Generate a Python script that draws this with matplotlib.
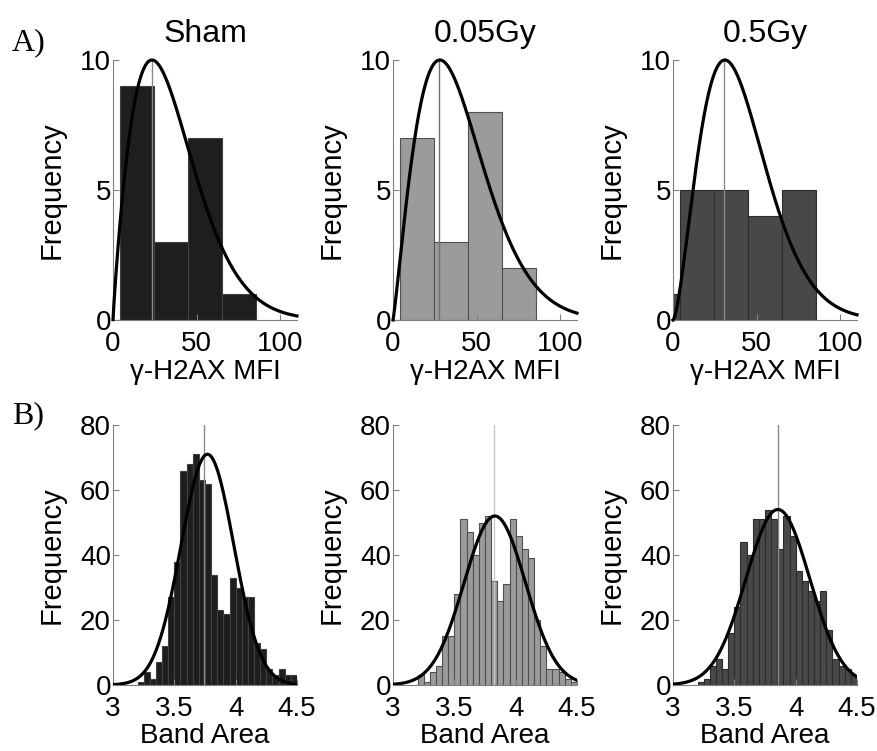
import numpy as np
import matplotlib.pyplot as plt

plt.rcParams['font.family'] = ['Liberation Sans', 'DejaVu Sans']

groups = ['Sham', '0.05Gy', '0.5Gy']
bar_colors = ['#1e1e1e', '#9b9b9b', '#484848']
edge_colors = ['#404040', '#505050', '#2c2c2c']

# A) gamma-H2AX MFI histograms
mfi_edges = [-16.4, 4.0, 24.4, 44.8, 65.2, 85.6]
mfi_sham = [0, 9, 3, 7, 1]
mfi_005 = [0, 7, 3, 8, 2]
mfi_05 = [1, 5, 5, 4, 5]
# fitted curve: mode, shape, peak height; gray line position
mfi_mode = [23.3, 28.0, 31.0]
mfi_shape = [0.9, 1.15, 1.55]
mfi_power = 1.5
mfi_peak = 10
mfi_mark = [23.3, 27.5, 30.4]

# B) band area histograms
area_start = 3.2
area_width = 0.05
area_sham = [1, 4, 2, 7, 12, 27, 38, 66, 68, 71, 63, 62, 34, 23, 22, 33, 30, 27, 27, 13, 11, 5, 3, 5, 3, 3]
area_005 = [3, 1, 4, 6, 15, 15, 28, 51, 47, 40, 50, 52, 32, 26, 31, 51, 46, 42, 39, 20, 12, 5, 5, 4, 2, 1]
area_05 = [1, 2, 6, 8, 5, 16, 24, 44, 40, 51, 51, 54, 51, 42, 52, 46, 35, 32, 29, 26, 29, 17, 8, 6, 5, 3]
# normal fit: mean, sd, peak height; gray line position
area_mean = [3.77, 3.83, 3.855]
area_sd = [0.215, 0.25, 0.26]
area_peak = [71, 52, 54]
area_mark = [3.742, 3.82, 3.853]

mark_top = ['#8a8a8a', '#707070', '#8a8a8a']
mark_bot = ['#8a8a8a', '#c8c8c8', '#8a8a8a']

W, H = 877, 751
fig = plt.figure(figsize=(W / 100, H / 100), dpi=100)

lefts = [113, 393, 673]
aw, ah = 184, 260


def style(ax):
    for s in ['top', 'right']:
        ax.spines[s].set_visible(False)
    for s in ['left', 'bottom']:
        ax.spines[s].set_color('#808080')
        ax.spines[s].set_linewidth(0.8)
    ax.tick_params(direction='in', length=4, width=0.8, color='#808080',
                   labelsize=20, labelcolor='black')
    ax.tick_params(axis='y', pad=1.5)
    ax.tick_params(axis='x', pad=8)


mfi_counts = [mfi_sham, mfi_005, mfi_05]
area_counts = [area_sham, area_005, area_05]

for i in range(3):
    # top row
    ax = fig.add_axes([lefts[i] / W, 1 - (60 + ah) / H, aw / W, ah / H])
    style(ax)
    e = np.array(mfi_edges)
    ax.bar(e[:-1], mfi_counts[i], width=np.diff(e), align='edge',
           color=bar_colors[i], edgecolor=edge_colors[i], linewidth=0.8, zorder=1)
    ax.plot([mfi_mark[i]] * 2, [0, mfi_peak], color=mark_top[i], lw=1, zorder=2)
    x = np.linspace(0.01, 110, 500)
    t = x / mfi_mode[i]
    y = mfi_peak * np.exp(mfi_shape[i] * (np.log(t) - (t ** mfi_power - 1) / mfi_power))
    ax.plot(x, y, color='black', lw=2.3, zorder=3, clip_on=False)
    ax.set_xlim(0, 110)
    ax.set_ylim(0, 10)
    ax.set_xticks([0, 50, 100])
    ax.set_yticks([0, 5, 10])
    ax.set_title(groups[i], fontsize=23, pad=13)
    ax.set_xlabel('\u03b3-H2AX MFI', fontsize=20)
    ax.set_ylabel('Frequency', fontsize=21)
    ax.xaxis.set_label_coords(0.5, -0.15)
    ax.yaxis.set_label_coords(-0.26, 0.5)

    # bottom row
    ax = fig.add_axes([lefts[i] / W, 1 - (425 + ah) / H, aw / W, ah / H])
    style(ax)
    n = len(area_counts[i])
    edges = area_start + area_width * np.arange(n + 1)
    ax.bar(edges[:-1], area_counts[i], width=area_width, align='edge',
           color=bar_colors[i], edgecolor=edge_colors[i], linewidth=0.8, zorder=1)
    ax.plot([area_mark[i]] * 2, [0, 80], color=mark_bot[i], lw=1, zorder=2)
    x = np.linspace(3, 4.5, 400)
    y = area_peak[i] * np.exp(-(x - area_mean[i]) ** 2 / (2 * area_sd[i] ** 2))
    ax.plot(x, y, color='black', lw=2.3, zorder=3)
    ax.set_xlim(3, 4.5)
    ax.set_ylim(0, 80)
    ax.set_xticks([3, 3.5, 4, 4.5])
    ax.set_xticklabels(['3', '3.5', '4', '4.5'])
    ax.set_yticks([0, 20, 40, 60, 80])
    ax.set_xlabel('Band Area', fontsize=20)
    ax.set_ylabel('Frequency', fontsize=21)
    ax.xaxis.set_label_coords(0.5, -0.145)
    ax.yaxis.set_label_coords(-0.26, 0.5)

fig.text(12 / W, 1 - 50 / H, 'A)', fontsize=23, family='Liberation Serif')
fig.text(12 / W, 1 - 423 / H, 'B)', fontsize=23, family='Liberation Serif')

fig.savefig('out.png', dpi=100)
